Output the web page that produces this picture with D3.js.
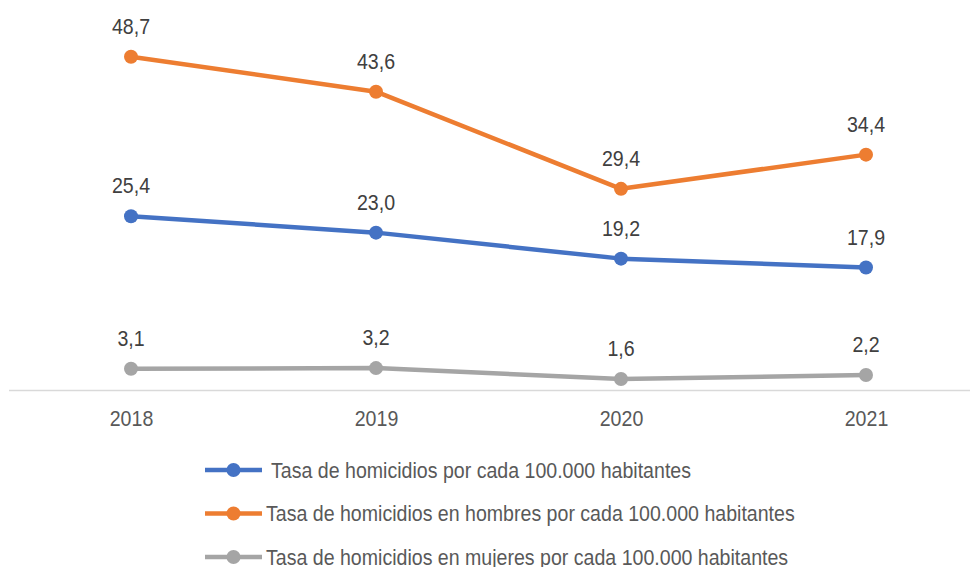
<!DOCTYPE html>
<html>
<head>
<meta charset="utf-8">
<script src="https://cdn.jsdelivr.net/npm/d3@7"></script>
<style>
  body { margin: 0; background: #fff; }
  svg { display: block; font-family: "Liberation Sans", Arial, sans-serif; }
</style>
</head>
<body>
<div id="chart"></div>
<script>
const years = ["2018", "2019", "2020", "2021"];
const total = [25.4, 23.0, 19.2, 17.9];
const hombres = [48.7, 43.6, 29.4, 34.4];
const mujeres = [3.1, 3.2, 1.6, 2.2];
const seriesNames = [
  " Tasa de homicidios por cada 100.000 habitantes",
  "Tasa de homicidios en hombres por cada 100.000 habitantes",
  "Tasa de homicidios en mujeres por cada 100.000 habitantes"
];
const seriesColors = ["#4472c4", "#ed7d31", "#a5a5a5"];

const series = [total, hombres, mujeres].map((values, i) => ({
  name: seriesNames[i],
  color: seriesColors[i],
  values: values.map((v, j) => ({ year: years[j], value: v }))
}));

const width = 972, height = 567;
const narrow = 0.89; // the original uses a condensed face
const fmt = (v) => v.toFixed(1).replace(".", ",");

const x = d3.scalePoint().domain(years).range([131, 866]);
const y = d3.scaleLinear().domain([0, 57]).range([390, 0]);

const svg = d3.select("#chart").append("svg")
  .attr("width", width)
  .attr("height", height);

// baseline axis
svg.append("g")
  .attr("transform", `translate(0,${y(0)})`)
  .call(d3.axisBottom(x).tickSize(0).tickPadding(20))
  .call((g) => g.select(".domain").attr("d", "M9,0.5H970").attr("stroke", "#d9d9d9").attr("stroke-width", 1.5))
  .call((g) => g.selectAll("text")
    .attr("font-size", 22)
    .attr("fill", "#595959")
    .attr("font-family", null)
    .attr("transform", `scale(${narrow},1)`));

const line = d3.line().x((d) => x(d.year)).y((d) => y(d.value));

const gSeries = svg.selectAll("g.series")
  .data(series)
  .join("g")
  .attr("class", "series");

gSeries.append("path")
  .attr("d", (d) => line(d.values))
  .attr("fill", "none")
  .attr("stroke", (d) => d.color)
  .attr("stroke-width", 4.5)
  .attr("stroke-linejoin", "round");

gSeries.selectAll("circle")
  .data((d) => d.values.map((v) => ({ ...v, color: d.color })))
  .join("circle")
  .attr("cx", (d) => x(d.year))
  .attr("cy", (d) => y(d.value))
  .attr("r", 7)
  .attr("fill", (d) => d.color);

gSeries.selectAll("text")
  .data((d) => d.values)
  .join("text")
  .attr("transform", (d) => `translate(${x(d.year)},${y(d.value) - 23}) scale(${narrow},1)`)
  .attr("text-anchor", "middle")
  .attr("font-size", 22)
  .attr("fill", "#404040")
  .text((d) => fmt(d.value));

// legend
const legend = svg.append("g")
  .selectAll("g")
  .data(series)
  .join("g")
  .attr("transform", (d, i) => `translate(205,${470 + i * 43.5})`);

legend.append("line")
  .attr("x1", 0).attr("x2", 57)
  .attr("stroke", (d) => d.color)
  .attr("stroke-width", 4.5);

legend.append("circle")
  .attr("cx", 28.5)
  .attr("r", 7)
  .attr("fill", (d) => d.color);

legend.append("text")
  .attr("transform", `translate(61,0) scale(${narrow},1)`)
  .attr("dy", "0.35em")
  .attr("font-size", 22)
  .attr("fill", "#595959")
  .style("white-space", "pre")
  .text((d) => d.name);
</script>
</body>
</html>
